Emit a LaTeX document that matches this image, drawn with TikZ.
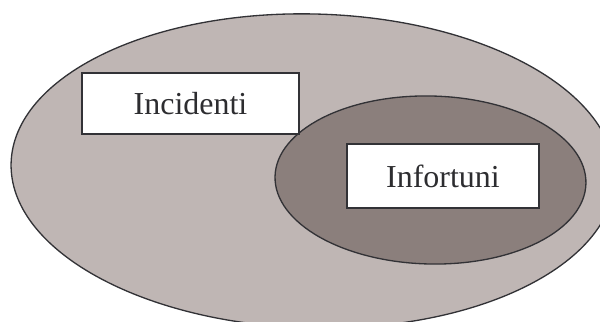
\documentclass[tikz,border=0pt]{standalone}
\usepackage{fontspec}
\setmainfont{Liberation Serif}
\begin{document}
\definecolor{setlight}{RGB}{191,182,180}
\definecolor{setdark}{RGB}{139,127,124}
\definecolor{rim}{RGB}{50,50,54}
\definecolor{ink}{RGB}{45,45,48}
\tikzset{
  setline/.style={draw=rim, line width=0.75pt},
  label box/.style={draw=rim, line width=1.1pt, fill=white, rectangle,
    inner sep=0pt, text=ink, font=\fontsize{18.2}{20}\selectfont},
}
\begin{tikzpicture}[x=0.02cm, y=-0.02cm]
  \useasboundingbox (0,0) rectangle (600,322);
  \clip (0,0) rectangle (600,322);
  % outer set
  \coordinate (outerc) at (313,171);
  \filldraw[setline, fill=setlight, rotate around={-1.5:(outerc)}]
    (outerc) ellipse [x radius=302, y radius=157];
  % inner set
  \coordinate (innerc) at (430.5,180);
  \filldraw[setline, fill=setdark, rotate around={-1.3:(innerc)}]
    (innerc) ellipse [x radius=155.5, y radius=84];
  % labels
  \node[label box, minimum width=4.34cm, minimum height=1.22cm]
    (incidenti) at (190.5,103.5) {Incidenti};
  \node[label box, minimum width=3.84cm, minimum height=1.28cm]
    (infortuni) at (443,176) {Infortuni};
\end{tikzpicture}
\end{document}
